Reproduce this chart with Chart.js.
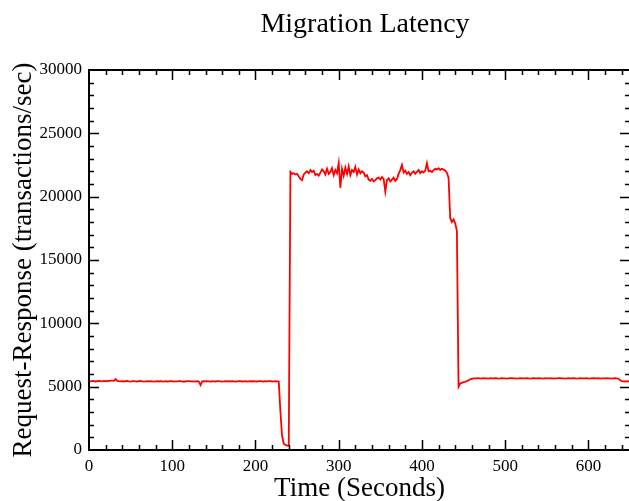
<!DOCTYPE html>
<html>
<head>
<meta charset="utf-8">
<script src="https://cdn.jsdelivr.net/npm/chart.js@4/dist/chart.umd.min.js"></script>
<style>
  html, body { margin: 0; padding: 0; background: #fff; overflow: hidden; }
  #wrap { width: 631px; height: 501px; position: relative; }
</style>
</head>
<body>
<div id="wrap"><canvas id="c"></canvas></div>
<script>
// ---- data ----
const chartTitle = "Migration Latency";
const xTitle = "Time (Seconds)";
const yTitle = "Request-Response (transactions/sec)";
const timeStep = 2; // seconds between samples, starting at t = 0

// t = 0 .. 226
const baselineBefore = [
  5440, 5420, 5450, 5430, 5410, 5440, 5460, 5430, 5420, 5450, 5440, 5430, 5450, 5470, 5480, 5460,
  5600,
  5450, 5430, 5420, 5440, 5410, 5430, 5450, 5420, 5400, 5430, 5440, 5420, 5410, 5430, 5450, 5420,
  5400, 5410, 5430, 5420, 5440, 5410, 5400, 5420, 5430, 5410, 5440, 5420, 5400, 5430, 5410, 5420,
  5440, 5430, 5400, 5410, 5420, 5440, 5430, 5400, 5420, 5410, 5430, 5440, 5420, 5410, 5400, 5420,
  5430, 5410,
  5130,
  5420, 5430, 5410, 5440, 5420, 5400, 5430, 5420, 5410, 5440, 5430, 5420, 5400, 5410, 5430, 5420,
  5440, 5410, 5430, 5420, 5400, 5420, 5440, 5430, 5410, 5420, 5430, 5400, 5420, 5440, 5410, 5430,
  5420, 5410, 5440, 5430, 5420, 5410, 5430, 5420, 5440, 5430, 5410, 5420, 5430, 5420
];
// t = 228 .. 240
const dropToZero = [5400, 3000, 1100, 500, 400, 350, 350];
// t = 242 .. 430
const plateau = [
  21950, 21800, 21850,
  21750, 21800, 21600, 21400,
  21300,
  21750, 21900, 22000, 21850, 22100, 21950, 22050,
  21700, 21800, 21650, 21900, 22150,
  22000, 21750, 22200, 21800, 21950, 22250, 21700, 22100, 21850,
  22650, 20700,
  22200, 21650, 22300, 21800, 22400, 21700, 22100, 21950, 22350, 21750, 22150, 21850, 22000, 21900, 21600, 21700,
  21350, 21250, 21400, 21200, 21300, 21450,
  21500, 21350, 21550, 21400,
  20400,
  21300, 21450, 21200, 21350, 21500, 21250, 21400,
  21800, 22100, 22500, 21900, 22050,
  21800, 21950, 21700, 21900, 22000, 21800, 21950, 22100, 21850, 22000, 21900, 22050,
  22650,
  22000, 22050, 21950, 22100, 22200, 22150, 22250, 22100, 22200, 22150, 22050, 21900
];
// t = 432 .. 462
const stepDown = [21500, 18300, 18000, 18200, 17900, 17300, 5000, 5250, 5300, 5350, 5380, 5450, 5500, 5580, 5620, 5650];
// t = 464 .. 636
const baselineAfter = [
  5660, 5650, 5670, 5640, 5660, 5680, 5650, 5660, 5640, 5670, 5660, 5650, 5680, 5660, 5640, 5650,
  5670, 5660, 5650, 5640, 5660, 5670, 5680, 5650, 5660, 5640, 5650, 5670, 5660, 5650, 5660, 5680,
  5650, 5640, 5660, 5670, 5650, 5660, 5680, 5660, 5650, 5640, 5670, 5660, 5650, 5660, 5670, 5640,
  5650, 5660, 5680, 5670, 5650, 5660, 5640, 5650, 5670, 5660, 5650, 5680, 5660, 5640, 5650, 5670,
  5660, 5650, 5660, 5670, 5640, 5660, 5650, 5680, 5660, 5650, 5670, 5640, 5660, 5650, 5660, 5670,
  5650, 5660, 5640, 5660, 5670, 5650, 5640
];
// t = 638 .. 650
const tailEnd = [5520, 5430, 5420, 5410, 5420, 5430, 5420];

const latency = [...baselineBefore, ...dropToZero, ...plateau, ...stepDown, ...baselineAfter, ...tailEnd];
const points = latency.map((v, i) => ({ x: i * timeStep, y: v }));

const xMin = 0, xMax = 650, xMajor = 100, xMinor = 20;
const yMin = 0, yMax = 30000, yMajor = 5000, yMinor = 1000;

// ---- frame with inward ticks on all four sides (xmgrace style) ----
const frameTicks = {
  id: 'frameTicks',
  afterLayout(chart) {
    const ca = chart.chartArea;
    chart.titleBlock.left = ca.left + 11;
    chart.titleBlock.right = ca.right;
  },
  afterDatasetsDraw(chart) {
    const { ctx, chartArea: { left, right, top, bottom }, scales: { x, y } } = chart;
    ctx.save();
    ctx.strokeStyle = '#000';
    ctx.lineWidth = 1.5;
    ctx.beginPath();
    for (let v = xMin + xMinor; v < xMax; v += xMinor) {
      const px = Math.round(x.getPixelForValue(v)) + 0.5;
      const L = v % xMajor === 0 ? 10 : 5;
      ctx.moveTo(px, bottom); ctx.lineTo(px, bottom - L);
      ctx.moveTo(px, top); ctx.lineTo(px, top + L);
    }
    for (let v = yMin + yMinor; v < yMax; v += yMinor) {
      const py = Math.round(y.getPixelForValue(v)) + 0.5;
      const L = v % yMajor === 0 ? 10 : 5;
      ctx.moveTo(left, py); ctx.lineTo(left + L, py);
      ctx.moveTo(right, py); ctx.lineTo(right - L, py);
    }
    ctx.stroke();
    ctx.lineWidth = 2;
    ctx.strokeRect(left, top, right - left, bottom - top);
    ctx.restore();
  }
};

const serif = "'Liberation Serif', 'Times New Roman', serif";

new Chart(document.getElementById('c'), {
  type: 'line',
  data: {
    datasets: [{
      data: points,
      borderColor: '#ff0000',
      borderWidth: 1.8,
      pointRadius: 0,
      tension: 0,
      fill: false
    }]
  },
  options: {
    responsive: true,
    maintainAspectRatio: false,
    animation: false,
    layout: { padding: { left: 0, right: 1, top: 0, bottom: 0 } },
    plugins: {
      legend: { display: false },
      tooltip: { enabled: false },
      title: {
        display: true,
        text: chartTitle,
        color: '#000',
        font: { family: serif, size: 28, weight: 'normal', lineHeight: 1.2 },
        padding: { top: 8, bottom: 28.4 }
      }
    },
    scales: {
      x: {
        type: 'linear',
        min: xMin, max: xMax,
        grid: { display: false, drawTicks: false },
        border: { display: false },
        ticks: {
          stepSize: xMajor,
          includeBounds: false,
          autoSkip: false,
          maxRotation: 0,
          padding: 6,
          color: '#000',
          font: { family: serif, size: 17 },
          callback: v => (v % xMajor === 0 ? String(v) : '')
        },
        title: {
          display: true,
          text: xTitle,
          color: '#000',
          font: { family: serif, size: 27, lineHeight: 1.2 },
          padding: { top: 0, bottom: -4 }
        },
        afterFit: s => { s.height = 51; }
      },
      y: {
        type: 'linear',
        min: yMin, max: yMax,
        grid: { display: false, drawTicks: false },
        border: { display: false },
        ticks: {
          stepSize: yMajor,
          autoSkip: false,
          padding: 7,
          color: '#000',
          font: { family: serif, size: 17 },
          callback: v => String(v)
        },
        title: {
          display: true,
          text: yTitle,
          color: '#000',
          font: { family: serif, size: 27, lineHeight: 1.2 },
          padding: { top: 8, bottom: 0 }
        },
        afterFit: s => { s.width = 89; }
      }
    }
  },
  plugins: [frameTicks]
});
</script>
</body>
</html>
